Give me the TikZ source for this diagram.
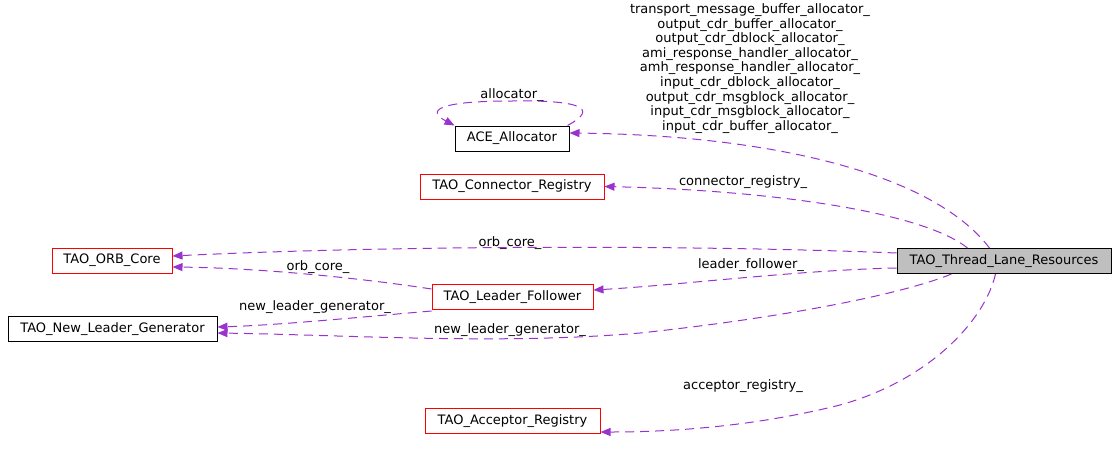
\documentclass[tikz,border=0pt]{standalone}
\usepackage{fontspec}
\setmainfont{DejaVu Sans}
\usetikzlibrary{arrows.meta}
\definecolor{edgec}{RGB}{154,50,205}
\definecolor{boxgray}{RGB}{191,191,191}
\begin{document}
\begin{tikzpicture}[x=1pt,y=-1pt,
  cls/.style={draw=black, line width=1pt, minimum height=25pt, inner sep=0pt, font=\fontsize{13}{14.6}\selectfont},
  redcls/.style={cls, draw=red},
  rel/.style={draw=edgec, line width=1pt, dash pattern=on 9pt off 6pt, -{Triangle[length=10pt,width=8pt,fill=edgec]}},
  lbl/.style={inner sep=0pt, font=\fontsize{13}{14.6}\selectfont, align=center}]
\useasboundingbox (0,0) rectangle (1117,451);

\node[cls, fill=boxgray, minimum width=214pt] (tlr) at (1004,261) {TAO\_Thread\_Lane\_Resources};
\node[cls, minimum width=114pt] (ace) at (512,138.5) {ACE\_Allocator};
\node[redcls, minimum width=184pt] (conn) at (512,186.5) {TAO\_Connector\_Registry};
\node[redcls, minimum width=120pt] (orb) at (112,260.5) {TAO\_ORB\_Core};
\node[redcls, minimum width=161pt] (lf) at (512.5,297) {TAO\_Leader\_Follower};
\node[cls, minimum width=209pt] (nlg) at (112.5,329) {TAO\_New\_Leader\_Generator};
\node[redcls, minimum width=175pt] (acc) at (512.5,421) {TAO\_Acceptor\_Registry};

% labels
\node[lbl] (lalloc) at (750,68.5) {transport\_message\_buffer\_allocator\_\\output\_cdr\_buffer\_allocator\_\\output\_cdr\_dblock\_allocator\_\\ami\_response\_handler\_allocator\_\\amh\_response\_handler\_allocator\_\\input\_cdr\_dblock\_allocator\_\\output\_cdr\_msgblock\_allocator\_\\input\_cdr\_msgblock\_allocator\_\\input\_cdr\_buffer\_allocator\_};
\node[lbl] (lself) at (512,95) {allocator\_};
\node[lbl] (lconn) at (743,182) {connector\_registry\_};
\node[lbl] (lorb1) at (510,243) {orb\_core\_};
\node[lbl] (llf) at (751,265) {leader\_follower\_};
\node[lbl] (lorb2) at (318,267) {orb\_core\_};
\node[lbl] (lnlg1) at (315,307) {new\_leader\_generator\_};
\node[lbl] (lnlg2) at (510,330) {new\_leader\_generator\_};
\node[lbl] (lacc) at (743,386) {acceptor\_registry\_};

% edges
\draw[rel] ([xshift=93pt]tlr.north west) .. controls (930,170) and (760,135) .. ([yshift=5.5pt]ace.east);
\draw[rel] ([xshift=-2pt]ace.north east) .. controls (600,108) and (580,100) .. (512,101) .. controls (440,101) and (425,110) .. (ace.north west);
\draw[rel] ([xshift=71pt]tlr.north west) .. controls (920,210) and (760,190) .. (conn.east);
\draw[rel] ([yshift=-5pt]tlr.north west) .. controls (700,245) and (400,245) .. ([yshift=4.5pt]orb.east);
\draw[rel] ([yshift=6pt]tlr.south west) .. controls (800,270) and (680,285) .. ([yshift=7pt]lf.east);
\draw[rel] ([xshift=55pt]tlr.south west) .. controls (900,295) and (780,318) .. (640,333) .. controls (500,345) and (350,335) .. ([yshift=-4pt]nlg.east);
\draw[rel] ([xshift=99pt]tlr.south west) .. controls (985,320) and (930,380) .. (840,405) .. controls (760,425) and (680,432) .. ([yshift=2pt]acc.south east);
\draw[rel] ([yshift=8pt]lf.west) .. controls (360,278) and (260,268) .. ([yshift=-6.5pt]orb.east);
\draw[rel] ([yshift=-1pt]lf.south west) .. controls (350,318) and (280,325) .. ([yshift=2pt]nlg.east);
\end{tikzpicture}
\end{document}
